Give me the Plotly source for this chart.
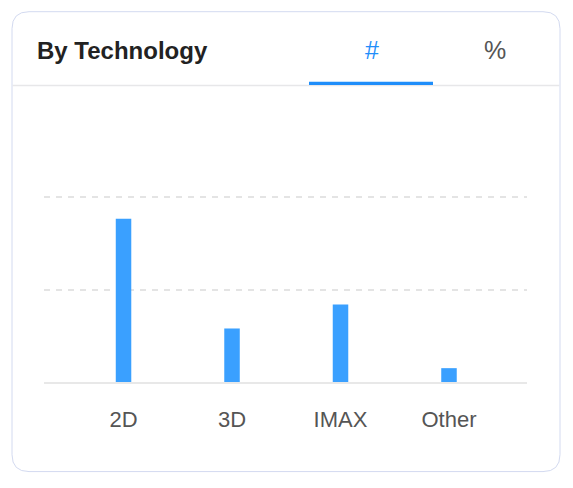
import plotly.graph_objects as go

categories = ["2D", "3D", "IMAX", "Other"]
counts = [177, 58, 84, 15]
grid_vals = [100, 200]
title_text = "By Technology"
tab_labels = ["#", "%"]

W, H = 573, 488
# plot area in pixels
L, R, T, B = 44, 527, 160, 382.3


def px(x):
    return (x - L) / (R - L)


def py(y):
    return (B - y) / (B - T)


def rounded_rect(x0, y0, x1, y1, r):
    # path in paper coordinates, corners via quadratic curves
    p = [
        f"M {px(x0 + r)},{py(y0)}",
        f"L {px(x1 - r)},{py(y0)}",
        f"Q {px(x1)},{py(y0)} {px(x1)},{py(y0 + r)}",
        f"L {px(x1)},{py(y1 - r)}",
        f"Q {px(x1)},{py(y1)} {px(x1 - r)},{py(y1)}",
        f"L {px(x0 + r)},{py(y1)}",
        f"Q {px(x0)},{py(y1)} {px(x0)},{py(y1 - r)}",
        f"L {px(x0)},{py(y0 + r)}",
        f"Q {px(x0)},{py(y0)} {px(x0 + r)},{py(y0)}",
        "Z",
    ]
    return " ".join(p)


fig = go.Figure()
fig.add_trace(go.Bar(x=categories, y=counts, width=0.143,
                     marker_color="#3aa0ff", marker_line_width=0,
                     hoverinfo="x+y"))

font = "Liberation Sans, Arial, sans-serif"

shapes = [
    dict(type="path", xref="paper", yref="paper",
         path=rounded_rect(12, 11.5, 560, 472, 17),
         line=dict(color="#d3daf0", width=1), fillcolor="rgba(0,0,0,0)",
         layer="below"),
    # header separator
    dict(type="line", xref="paper", yref="paper",
         x0=px(12.5), x1=px(559.5), y0=py(85.5), y1=py(85.5),
         line=dict(color="#e7e7e9", width=1.5)),
    # active tab underline
    dict(type="line", xref="paper", yref="paper",
         x0=px(309), x1=px(433), y0=py(83.3), y1=py(83.3),
         line=dict(color="#1f8efa", width=3.2)),
]

annotations = [
    dict(text=f"<b>{title_text}</b>", xref="paper", yref="paper",
         x=px(35), y=py(50), xanchor="left", yanchor="middle", showarrow=False,
         font=dict(size=24, color="#222222", family=font)),
    dict(text=tab_labels[0], xref="paper", yref="paper",
         x=px(372), y=py(50), xanchor="center", yanchor="middle", showarrow=False,
         font=dict(size=25, color="#1f8efa", family=font)),
    dict(text=tab_labels[1], xref="paper", yref="paper",
         x=px(495), y=py(50), xanchor="center", yanchor="middle", showarrow=False,
         font=dict(size=25, color="#555555", family=font)),
]

fig.update_layout(
    width=W, height=H,
    margin=dict(l=L, r=W - R, t=T, b=H - B, pad=0),
    paper_bgcolor="white", plot_bgcolor="white",
    showlegend=False,
    shapes=shapes, annotations=annotations,
    xaxis=dict(range=[-0.733, 3.719], showgrid=False, showline=True,
               linecolor="#e8e8e8", linewidth=2, ticks="",
               ticklabelstandoff=17,
               tickfont=dict(size=22, color="#555555", family=font),
               fixedrange=True),
    yaxis=dict(range=[0, 240.6], tickvals=grid_vals, showticklabels=False,
               showgrid=True, gridcolor="#e4e4e4", gridwidth=1.5,
               griddash="6px,6px", zeroline=False, fixedrange=True),
)

# drop the browser's default body margin so the card sits where it should
fig.write_html("out.html", config={"displayModeBar": False},
               post_script="document.body.style.margin='0';")
